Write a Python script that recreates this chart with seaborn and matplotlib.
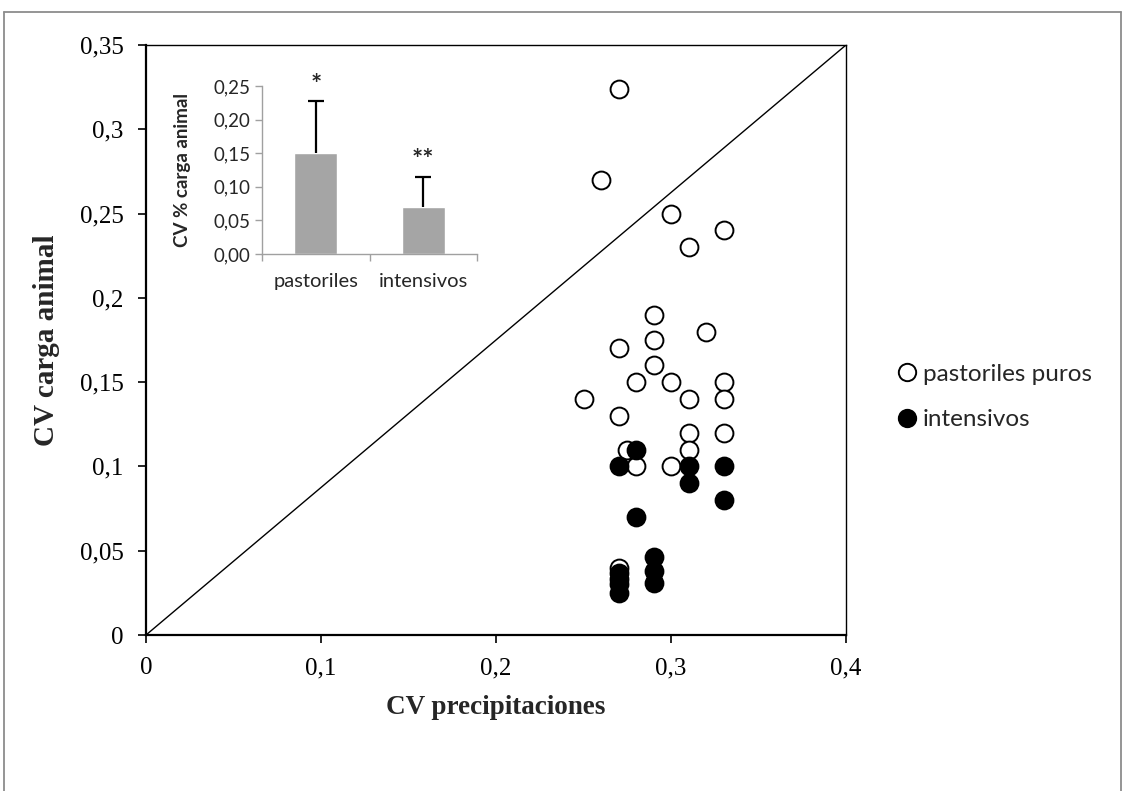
import matplotlib
matplotlib.use('Agg')
import matplotlib.pyplot as plt
import seaborn as sns
import pandas as pd
from matplotlib.lines import Line2D

# ---- data ----
open_x = [0.27, 0.26, 0.30, 0.33, 0.31, 0.29, 0.29, 0.27, 0.32, 0.29, 0.28, 0.30,
          0.33, 0.33, 0.31, 0.25, 0.27, 0.31, 0.33, 0.31, 0.275, 0.28, 0.30, 0.27]
open_y = [0.324, 0.27, 0.25, 0.24, 0.23, 0.19, 0.175, 0.17, 0.18, 0.16, 0.15, 0.15,
          0.15, 0.14, 0.14, 0.14, 0.13, 0.12, 0.12, 0.11, 0.11, 0.10, 0.10, 0.04]
filled_x = [0.28, 0.27, 0.31, 0.33, 0.31, 0.33, 0.28, 0.27, 0.27, 0.27, 0.27, 0.29, 0.29, 0.29]
filled_y = [0.11, 0.10, 0.10, 0.10, 0.09, 0.08, 0.07, 0.037, 0.033, 0.030, 0.025, 0.046, 0.038, 0.031]
diag_x = [0.0, 0.4]
diag_y = [0.0, 0.35]

x_ticks = [0, 0.1, 0.2, 0.3, 0.4]
x_ticklabels = ["0", "0,1", "0,2", "0,3", "0,4"]
y_ticks = [0, 0.05, 0.1, 0.15, 0.2, 0.25, 0.3, 0.35]
y_ticklabels = ["0", "0,05", "0,1", "0,15", "0,2", "0,25", "0,3", "0,35"]

inset_cats = ["pastoriles", "intensivos"]
inset_means = [0.15, 0.07]
inset_err = [0.078, 0.045]
inset_stars = ["*", "**"]
inset_star_y = [0.252, 0.140]
inset_yticks = [0, 0.05, 0.10, 0.15, 0.20, 0.25]
inset_yticklabels = ["0,00", "0,05", "0,10", "0,15", "0,20", "0,25"]

legend_labels = ["pastoriles puros", "intensivos"]

# ---- style ----
sns.set_style('white')
plt.rcParams['font.family'] = ['Liberation Serif', 'DejaVu Serif']
sans = ['Lato', 'DejaVu Sans']

W, H = 1125, 791
fig = plt.figure(figsize=(W / 100, H / 100), dpi=100)

# main axes
ax = fig.add_axes([146 / W, 1 - 635 / H, 700 / W, 590 / H])
ax.plot(diag_x, diag_y, color='black', lw=1.0, zorder=1)

df_open = pd.DataFrame({'x': open_x, 'y': open_y})
df_fill = pd.DataFrame({'x': filled_x, 'y': filled_y})
sns.scatterplot(data=df_open, x='x', y='y', ax=ax, s=165, color='white',
                edgecolor='black', linewidth=1.4, zorder=3)
sns.scatterplot(data=df_fill, x='x', y='y', ax=ax, s=165, color='black',
                edgecolor='black', linewidth=1.4, zorder=4)

ax.set_xlim(0, 0.4)
ax.set_ylim(0, 0.35)
ax.set_xticks(x_ticks)
ax.set_xticklabels(x_ticklabels)
ax.set_yticks(y_ticks)
ax.set_yticklabels(y_ticklabels)
ax.tick_params(axis='both', direction='out', length=6, width=1.2, labelsize=18,
               colors='black', bottom=True, left=True, pad=10)
for side in ['left', 'bottom']:
    ax.spines[side].set_color('black')
    ax.spines[side].set_linewidth(1.6)
for side in ['top', 'right']:
    ax.spines[side].set_color('black')
    ax.spines[side].set_linewidth(1.0)
ax.set_xlabel("CV precipitaciones", fontsize=19.5, fontweight='bold', labelpad=11)
ax.set_ylabel("CV carga animal", fontsize=21, fontweight='bold', labelpad=14)

# inset
ax2 = fig.add_axes([262 / W, 1 - 254 / H, 215 / W, 168 / H])
df_bar = pd.DataFrame({'cat': inset_cats, 'val': inset_means})
sns.barplot(data=df_bar, x='cat', y='val', ax=ax2, color='#a5a5a5', saturation=1,
            width=0.4, zorder=2)
eb = ax2.errorbar([0, 1], inset_means, yerr=[[0, 0], inset_err], fmt='none',
                  ecolor='black', elinewidth=1.6, capsize=6, capthick=1.6, zorder=3)
eb[1][0].set_visible(False)
ax2.set_xlim(-0.5, 1.5)
ax2.set_ylim(0, 0.25)
ax2.set_yticks(inset_yticks)
ax2.set_yticklabels(inset_yticklabels, family=sans)
ax2.set_xticks([0, 1])
ax2.set_xticklabels(inset_cats, family=sans)
ax2.set_xticks([-0.5, 0.5, 1.5], minor=True)
ax2.tick_params(axis='y', direction='out', length=5, width=1, color='#a0a0a0',
                labelsize=13.5, left=True, pad=3.5)
ax2.tick_params(axis='x', which='major', length=0, labelsize=14.5, pad=14)
ax2.tick_params(axis='x', which='minor', direction='out', length=5, width=1,
                color='#a0a0a0', bottom=True)
for side in ['left', 'bottom']:
    ax2.spines[side].set_color('#a0a0a0')
    ax2.spines[side].set_linewidth(1.0)
for side in ['top', 'right']:
    ax2.spines[side].set_visible(False)
ax2.set_xlabel("")
ax2.set_ylabel("CV % carga animal", fontsize=13.5, fontweight='bold', family=sans, labelpad=16)
for i, (st, sy) in enumerate(zip(inset_stars, inset_star_y)):
    ax2.text(i, sy, st, ha='center', va='center', fontsize=19, fontweight='bold',
             family=sans, clip_on=False)

# legend
handles = [
    Line2D([], [], ls='none', marker='o', markersize=12.5, markerfacecolor='white',
           markeredgecolor='black', markeredgewidth=1.4),
    Line2D([], [], ls='none', marker='o', markersize=12.5, markerfacecolor='black',
           markeredgecolor='black', markeredgewidth=1.4),
]
fig.legend(handles, legend_labels, loc='center left', bbox_to_anchor=(896 / W, 1 - 397 / H),
           frameon=False, prop={'family': sans, 'size': 17.5}, handletextpad=0.2,
           handlelength=0.9, labelspacing=1.0, borderaxespad=0, borderpad=0)

# outer frame (gray)
fc = '#8c8c8c'
fig.add_artist(Line2D([4 / W, 4 / W], [0, 1 - 12 / H], color=fc, lw=1.3))
fig.add_artist(Line2D([4 / W, 1121 / W], [1 - 12 / H, 1 - 12 / H], color=fc, lw=1.3))
fig.add_artist(Line2D([1121 / W, 1121 / W], [0, 1 - 12 / H], color=fc, lw=1.3))

fig.savefig('out.png', dpi=100)
